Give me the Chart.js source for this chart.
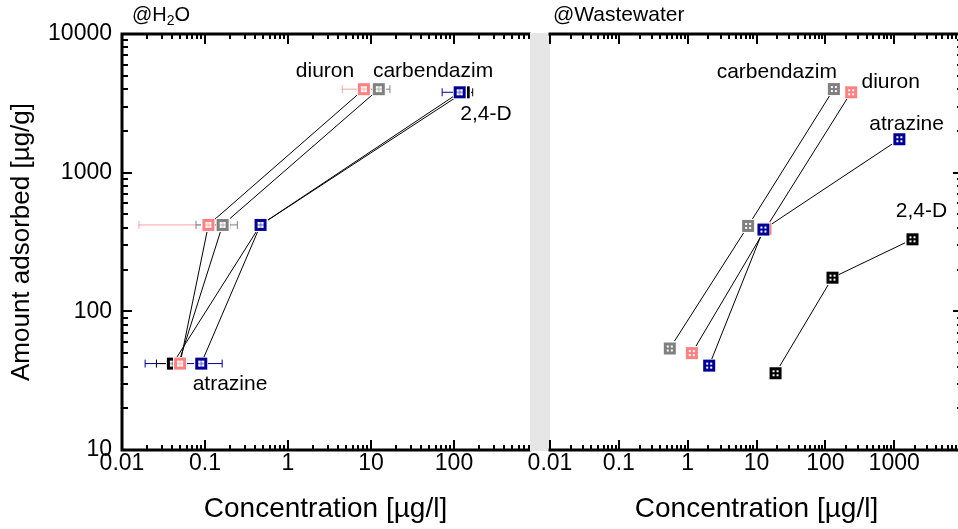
<!DOCTYPE html>
<html><head><meta charset="utf-8">
<script src="https://cdn.jsdelivr.net/npm/chart.js@4/dist/chart.umd.min.js"></script>
<style>
html,body{margin:0;padding:0;background:#fff;overflow:hidden;width:958px;height:529px}
#wrap{position:relative;width:958px;height:529px;overflow:hidden}
canvas{position:absolute;left:0;top:0}
</style></head><body>
<div id="wrap"><canvas id="cL" width="958" height="529"></canvas><canvas id="cR" width="970" height="529"></canvas></div>
<script>
// ---------- data ----------
const compounds = ['diuron', 'carbendazim', 'atrazine', '2,4-D'];
const panelTitles = ['@H', '2', 'O', '@Wastewater'];
const xTitle = 'Concentration [µg/l]';
const yTitle = 'Amount adsorbed [µg/g]';
const xTicksH2O = [0.01, 0.1, 1, 10, 100];
const xTicksWW = [0.01, 0.1, 1, 10, 100, 1000];
const yTicks = [10, 100, 1000, 10000];

// @H2O panel (three adsorption steps per compound)
const h2oDiuronConc = [0.050, 0.110, 8.2];
const h2oDiuronAds  = [42, 420, 4000];
const h2oDiuronLo   = [null, 0.016, 4.5];
const h2oDiuronHi   = [null, 0.20, 11.5];
const h2oCarbConc = [0.048, 0.163, 12.4];
const h2oCarbAds  = [42, 420, 4000];
const h2oCarbLo   = [null, 0.078, 9.5];
const h2oCarbHi   = [null, 0.245, 16.9];
const h2oAtrConc = [0.090, 0.467, 117];
const h2oAtrAds  = [42, 420, 3800];
const h2oAtrLo   = [0.019, null, 72];
const h2oAtrHi   = [0.161, null, 150];
const h2oDConc = [0.041, 0.467, 131];
const h2oDAds  = [42, 420, 3800];
const h2oDLo   = [0.026, null, 105];
const h2oDHi   = [0.060, null, 168];

// @Wastewater panel
const wwDiuronConc = [1.15, 13.5, 237];
const wwDiuronAds  = [50, 394, 3800];
const wwCarbConc = [0.55, 7.55, 133];
const wwCarbAds  = [54, 413, 4010];
const wwAtrConc = [2.05, 12.6, 1188];
const wwAtrAds  = [40.6, 389, 1742];
const wwDConc = [18.9, 127, 1846];
const wwDAds  = [35.8, 175, 331];
const wwDAdsLo = [null, null, 300];
const wwDAdsHi = [null, null, 365];

// ---------- styles ----------
const colors = ['#ff8080', '#808080', '#000099', '#000000'];
const zOrder = [2, 4, 1, 3];
const FONT = "'Liberation Sans', Arial, Helvetica, sans-serif";
Chart.defaults.font.family = FONT;
Chart.defaults.color = '#000';

function markerImage(color, filled) {
  const c = document.createElement('canvas'); c.width = 14; c.height = 14;
  const g = c.getContext('2d');
  g.fillStyle = '#fff'; g.fillRect(0, 0, 14, 14);
  g.fillStyle = color; g.fillRect(1, 1, 12, 12);
  if (filled) {
    g.fillStyle = '#fff';
    g.fillRect(4, 4, 2, 2); g.fillRect(8, 4, 2, 2); g.fillRect(4, 8, 2, 2); g.fillRect(8, 8, 2, 2);
  } else {
    g.fillStyle = '#fff'; g.fillRect(4, 4, 6, 6);
    g.globalAlpha = 0.6; g.fillStyle = color;
    g.fillRect(6.5, 4, 1, 6); g.fillRect(4, 6.5, 6, 1);
  }
  return c;
}

function pts(xs, ys) { return xs.map((v, i) => ({x: v, y: ys[i]})); }

const h2oSeries = [
  {conc: h2oDiuronConc, ads: h2oDiuronAds, lo: h2oDiuronLo, hi: h2oDiuronHi},
  {conc: h2oCarbConc, ads: h2oCarbAds, lo: h2oCarbLo, hi: h2oCarbHi},
  {conc: h2oAtrConc, ads: h2oAtrAds, lo: h2oAtrLo, hi: h2oAtrHi},
  {conc: h2oDConc, ads: h2oDAds, lo: h2oDLo, hi: h2oDHi}
];
const wwSeries = [
  {conc: wwDiuronConc, ads: wwDiuronAds},
  {conc: wwCarbConc, ads: wwCarbAds},
  {conc: wwAtrConc, ads: wwAtrAds},
  {conc: wwDConc, ads: wwDAds, ylo: wwDAdsLo, yhi: wwDAdsHi}
];

// annotation anchors (data coordinates of label centres)
const h2oLabels = [
  {text: compounds[0], x: 2.79, y: 5410},
  {text: compounds[1], x: 55.9, y: 5410},
  {text: compounds[3], x: 243, y: 2650},
  {text: compounds[2], x: 0.2, y: 30}
];
const wwLabels = [
  {text: compounds[1], x: 19.7, y: 5270},
  {text: compounds[0], x: 891, y: 4470},
  {text: compounds[2], x: 1514, y: 2220},
  {text: compounds[3], x: 2489, y: 523}
];

function buildDatasets(series, filled) {
  const lines = series.map((s, i) => ({
    data: pts(s.conc, s.ads), showLine: true, borderColor: '#000', borderWidth: 1,
    pointRadius: 0, order: 10, label: compounds[i] + ' line'
  }));
  const marks = series.map((s, i) => ({
    data: pts(s.conc, s.ads), showLine: false, pointStyle: markerImage(colors[i], filled),
    pointRadius: 6, order: zOrder[i], label: compounds[i]
  }));
  return lines.concat(marks);
}

function logTickValues(min, max) {
  const out = [];
  for (let d = Math.floor(Math.log10(min)); d <= Math.ceil(Math.log10(max)); d++) {
    for (let m = 1; m <= 9; m++) {
      const v = m * Math.pow(10, d);
      if (v >= min * 0.999 && v <= max * 1.001) out.push({v, major: m === 1});
    }
  }
  return out;
}

function axesPlugin(cfg) {
  return {
    id: 'axesDraw',
    beforeDraw(chart) {
      if (!cfg.band) return;
      const {ctx, chartArea: ca} = chart;
      ctx.save(); ctx.fillStyle = '#e6e6e6';
      ctx.fillRect(ca.left - 20, ca.top - 1, 20, ca.bottom - ca.top + 2);
      ctx.restore();
    },
    afterDraw(chart) {
      const {ctx, chartArea: ca, scales: {x, y}} = chart;
      ctx.save();
      ctx.strokeStyle = '#000';
      ctx.lineWidth = 3; ctx.lineCap = 'square';
      ctx.beginPath();
      ctx.moveTo(ca.left, ca.top); ctx.lineTo(ca.right, ca.top);
      ctx.moveTo(ca.left, ca.bottom); ctx.lineTo(ca.right, ca.bottom);
      if (cfg.left) { ctx.moveTo(ca.left, ca.top); ctx.lineTo(ca.left, ca.bottom); }
      if (cfg.right) { ctx.moveTo(ca.right, ca.top); ctx.lineTo(ca.right, ca.bottom); }
      ctx.stroke();
      ctx.lineWidth = 2; ctx.lineCap = 'butt';
      ctx.beginPath();
      for (const t of logTickValues(x.min, x.max)) {
        const px = Math.round(x.getPixelForValue(t.v));
        const len = t.major ? 10 : 5;
        ctx.moveTo(px, ca.bottom); ctx.lineTo(px, ca.bottom - len);
        ctx.moveTo(px, ca.top); ctx.lineTo(px, ca.top + len);
      }
      for (const t of logTickValues(y.min, y.max)) {
        const py = Math.round(y.getPixelForValue(t.v));
        const len = t.major ? 10 : 6;
        if (cfg.left) { ctx.moveTo(ca.left, py); ctx.lineTo(ca.left + len, py); }
        if (cfg.right) { ctx.moveTo(ca.right, py); ctx.lineTo(ca.right - len, py); }
      }
      ctx.stroke();
      // panel title
      ctx.fillStyle = '#000'; ctx.textAlign = 'left'; ctx.textBaseline = 'alphabetic';
      let tx = ca.left + cfg.titleDx; const ty = ca.top - 13;
      if (cfg.h2o) {
        ctx.font = '20px ' + FONT; ctx.fillText(panelTitles[0], tx, ty); tx += ctx.measureText(panelTitles[0]).width;
        ctx.font = '14px ' + FONT; ctx.fillText(panelTitles[1], tx, ty + 4); tx += ctx.measureText(panelTitles[1]).width;
        ctx.font = '20px ' + FONT; ctx.fillText(panelTitles[2], tx, ty);
      } else {
        ctx.font = '21px ' + FONT; ctx.fillText(panelTitles[3], tx, ty);
      }
      ctx.restore();
    }
  };
}

function errorPlugin(series) {
  return {
    id: 'errorBars',
    beforeDatasetsDraw(chart) {
      const {ctx, scales: {x, y}} = chart;
      ctx.save(); ctx.lineWidth = 1;
      series.forEach((s, i) => {
        ctx.strokeStyle = colors[i]; ctx.globalAlpha = i === 0 ? 0.75 : 1;
        s.conc.forEach((c, k) => {
          const py = y.getPixelForValue(s.ads[k]);
          if (s.lo && s.lo[k] != null) {
            const a = x.getPixelForValue(s.lo[k]), b = x.getPixelForValue(s.hi[k]);
            ctx.beginPath();
            ctx.moveTo(a, py); ctx.lineTo(b, py);
            ctx.moveTo(a, py - 4); ctx.lineTo(a, py + 4);
            ctx.moveTo(b, py - 4); ctx.lineTo(b, py + 4);
            ctx.stroke();
          }
          if (s.ylo && s.ylo[k] != null) {
            const px = x.getPixelForValue(c);
            const a = y.getPixelForValue(s.ylo[k]), b = y.getPixelForValue(s.yhi[k]);
            ctx.beginPath();
            ctx.moveTo(px, a); ctx.lineTo(px, b);
            ctx.moveTo(px - 3, a); ctx.lineTo(px + 3, a);
            ctx.moveTo(px - 3, b); ctx.lineTo(px + 3, b);
            ctx.stroke();
          }
        });
      });
      ctx.restore();
    }
  };
}

function labelPlugin(labels) {
  return {
    id: 'compoundLabels',
    afterDatasetsDraw(chart) {
      const {ctx, scales: {x, y}} = chart;
      ctx.save();
      ctx.font = '21px ' + FONT; ctx.fillStyle = '#000';
      ctx.textAlign = 'center'; ctx.textBaseline = 'middle';
      labels.forEach(l => ctx.fillText(l.text, x.getPixelForValue(l.x), y.getPixelForValue(l.y)));
      ctx.restore();
    }
  };
}

function xScale(ticksArr, max) {
  return {
    type: 'logarithmic', position: 'bottom', min: 0.01, max: max,
    grid: {display: false, drawTicks: false}, border: {display: false},
    afterBuildTicks: s => { s.ticks = ticksArr.map(v => ({value: v})); },
    ticks: {font: {size: 23}, color: '#000', padding: 0, autoSkip: false, maxRotation: 0,
            callback: v => String(v)},
    title: {display: true, text: xTitle, font: {size: 28}, color: '#000', padding: {top: 0, bottom: 3}},
    afterFit: s => { s.height = 79; }
  };
}

// ---------- left panel ----------
new Chart(document.getElementById('cL'), {
  type: 'scatter',
  data: {datasets: buildDatasets(h2oSeries, false)},
  options: {
    responsive: false, animation: false, devicePixelRatio: 1,
    layout: {padding: {left: 0, right: 958 - 529, top: 34, bottom: 0}},
    plugins: {legend: {display: false}, tooltip: {enabled: false}},
    scales: {
      x: xScale(xTicksH2O, 801),
      y: {
        type: 'logarithmic', position: 'left', min: 10, max: 10000,
        grid: {display: false, drawTicks: false}, border: {display: false},
        afterBuildTicks: s => { s.ticks = yTicks.map(v => ({value: v})); },
        ticks: {font: {size: 23}, color: '#000', padding: 10, autoSkip: false, callback: v => String(v)},
        title: {display: true, text: yTitle, font: {size: 26}, color: '#000', padding: {top: 6, bottom: 0}},
        afterFit: s => { s.width = 122; }
      }
    }
  },
  plugins: [errorPlugin(h2oSeries), labelPlugin(h2oLabels), axesPlugin({left: true, right: false, band: false, h2o: true, titleDx: 10})]
});

// ---------- right panel ----------
new Chart(document.getElementById('cR'), {
  type: 'scatter',
  data: {datasets: buildDatasets(wwSeries, true)},
  options: {
    responsive: false, animation: false, devicePixelRatio: 1,
    layout: {padding: {left: 550, right: 3, top: 34, bottom: 0}},
    plugins: {legend: {display: false}, tooltip: {enabled: false}},
    scales: {
      x: xScale(xTicksWW, 10000),
      y: {type: 'logarithmic', display: false, min: 10, max: 10000}
    }
  },
  plugins: [errorPlugin(wwSeries), labelPlugin(wwLabels), axesPlugin({left: false, right: true, band: true, h2o: false, titleDx: 3})]
});
</script>
</body></html>
